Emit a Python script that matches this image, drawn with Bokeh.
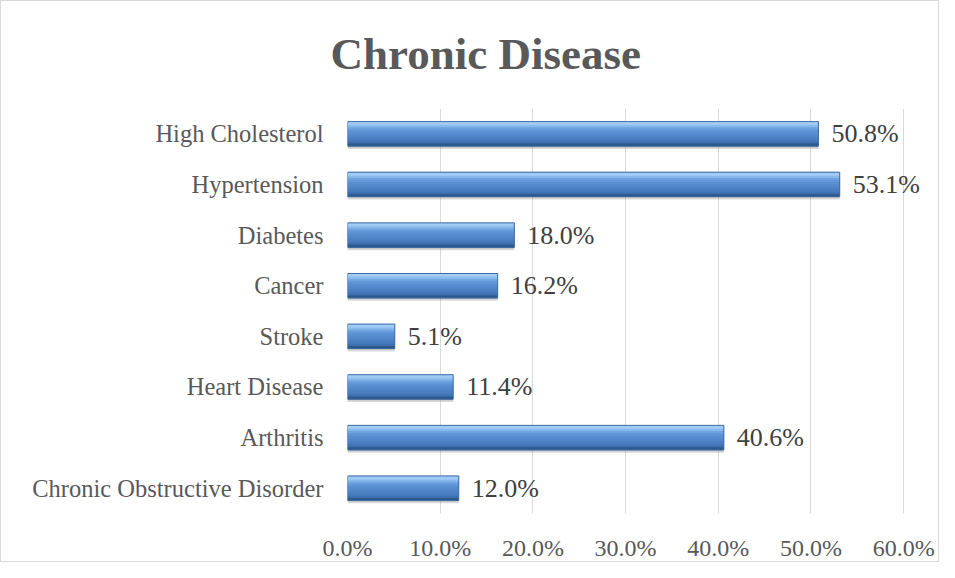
from bokeh.plotting import figure
from bokeh.models import ColumnDataSource, FactorRange, NumeralTickFormatter, FixedTicker
from bokeh.transform import dodge
from bokeh.core.properties import value
from bokeh.embed import file_html
from bokeh.resources import INLINE

title = "Chronic Disease"
categories = ["High Cholesterol", "Hypertension", "Diabetes", "Cancer", "Stroke",
              "Heart Disease", "Arthritis", "Chronic Obstructive Disorder"]
values = [0.508, 0.531, 0.180, 0.162, 0.051, 0.114, 0.406, 0.120]
x_ticks = [0.0, 0.1, 0.2, 0.3, 0.4, 0.5, 0.6]

labels = ["{:.1f}%".format(v * 100) for v in values]
src = ColumnDataSource(dict(cat=categories, val=values, lab=labels))

FONT = "Liberation Serif"
TXT = "#595959"

# frame spans 0 .. 0.63 so that the 60% gridline sits at ~903px and labels are not clipped
p = figure(width=939, height=562, output_backend="svg", toolbar_location=None,
           y_range=FactorRange(factors=list(reversed(categories))),
           x_range=(0, 0.63))
p.min_border_left = 346
p.min_border_right = 9
p.min_border_top = 105
p.min_border_bottom = 42
p.outline_line_color = None
p.background_fill_color = "white"
p.border_fill_color = "white"
p.styles = {"border": "1px solid #d9d9d9", "box-sizing": "border-box"}

p.title.text = title
p.title.text_font = FONT
p.title.text_font_style = "bold"
p.title.text_font_size = "45px"
p.title.text_color = TXT
p.title.align = "left"
p.title.offset = -17
p.title.vertical_align = "top"
p.title.standoff = 55

# grid
p.ygrid.grid_line_color = None
p.xgrid.grid_line_color = "#d9d9d9"
p.xgrid.grid_line_width = 1
p.xaxis.ticker = FixedTicker(ticks=x_ticks)
p.xaxis.formatter = NumeralTickFormatter(format="0.0%")

for ax in (p.xaxis, p.yaxis):
    ax.axis_line_color = None
    ax.major_tick_line_color = None
    ax.minor_tick_line_color = None
    ax.major_label_text_font = FONT
    ax.major_label_text_color = TXT
p.xaxis.major_label_text_font_size = "24px"
p.yaxis.major_label_text_font_size = "24.5px"
p.yaxis.major_label_standoff = 18
p.xaxis.major_label_standoff = 15

# bar geometry (category units; 1 band ~ 52px)
px = 1.0 / 51.9
bar_h = 25 * px

# shadow
p.hbar(y=dodge("cat", -3 * px, range=p.y_range), left=0, right="val", height=bar_h,
       source=src, fill_color="#808080", fill_alpha=0.3, line_color=None)
p.hbar(y=dodge("cat", -1.5 * px, range=p.y_range), left=0, right="val", height=bar_h,
       source=src, fill_color="#808080", fill_alpha=0.25, line_color=None)

# bevel gradient strips from top to bottom
grad = ["#a9d1f7", "#9cc8f4", "#86b8ec", "#6fa3e0", "#6196d8", "#5a8fd2",
        "#558acd", "#5085c8", "#4b7fc2", "#467abc", "#3e6fae", "#2c578c"]
n = len(grad)
sh = bar_h / n
for i, c in enumerate(grad):
    off = bar_h / 2 - sh * (i + 0.5)
    p.hbar(y=dodge("cat", off, range=p.y_range), left=0, right="val", height=sh * 1.4,
           source=src, fill_color=c, line_color=None)

p.hbar(y="cat", left=0, right="val", height=bar_h, source=src,
       fill_color=None, line_color="#3b6aa3", line_width=1)

# data labels
p.text(x="val", y="cat", text="lab", source=src, x_offset=13,
       text_baseline="middle", text_align="left",
       text_font=value(FONT), text_font_size="26px", text_color="#404040")

open("out.html", "w").write(file_html(p, INLINE))
